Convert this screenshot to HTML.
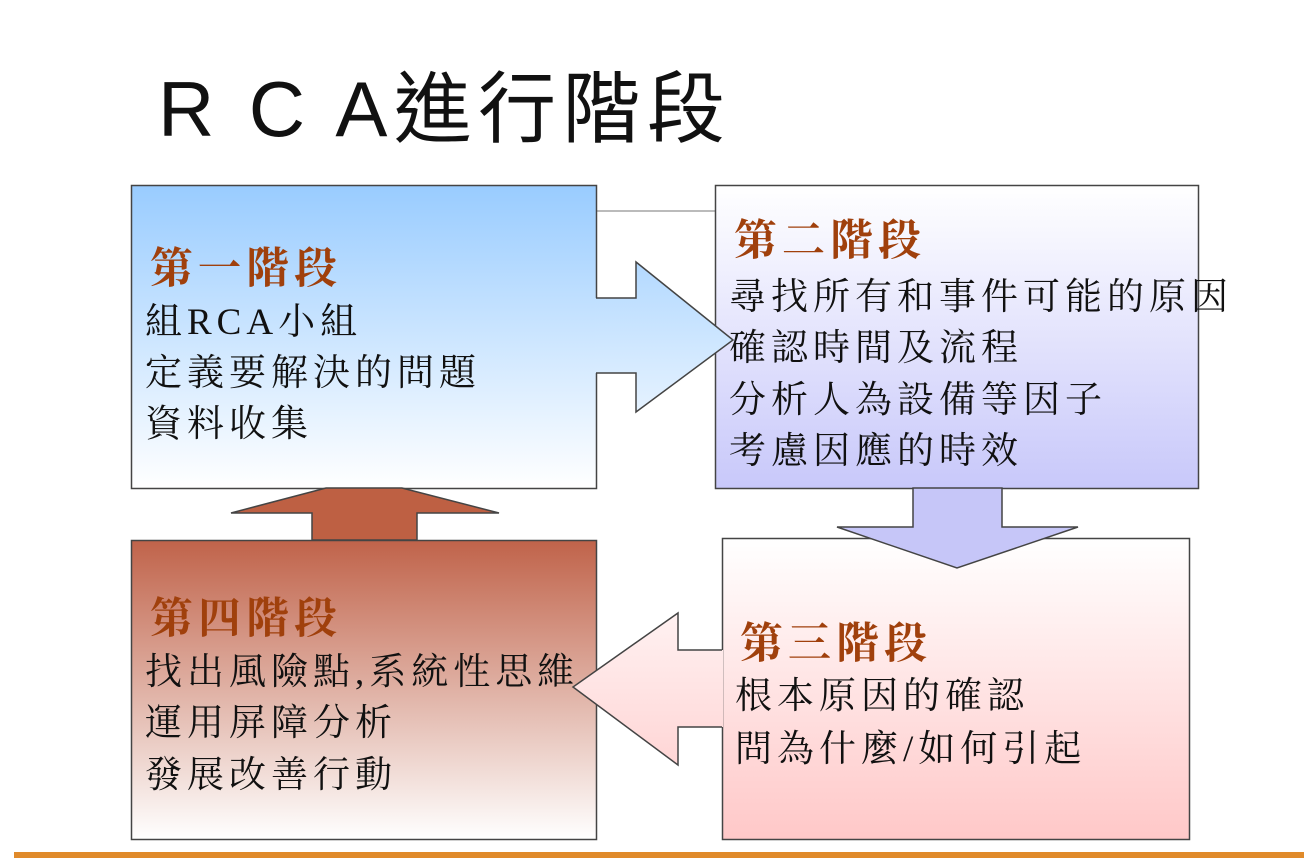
<!DOCTYPE html>
<html><head><meta charset="utf-8"><style>
html,body{margin:0;padding:0;background:#fff;}
svg{display:block}
.t{font-family:"Liberation Serif","Noto Serif CJK SC",serif;font-size:37px;fill:#111;letter-spacing:5px}
.h{font-family:"Liberation Serif","Noto Serif CJK SC",serif;font-size:43px;font-weight:bold;fill:#a0400c;letter-spacing:5px}
</style></head><body>
<svg width="1304" height="858" viewBox="0 0 1304 858" xmlns="http://www.w3.org/2000/svg">
<defs>
<linearGradient id="g1" x1="0" y1="0" x2="0" y2="1"><stop offset="0" stop-color="#99ccff"/><stop offset="1" stop-color="#ffffff"/></linearGradient>
<linearGradient id="g2" x1="0" y1="0" x2="0" y2="1"><stop offset="0" stop-color="#ffffff"/><stop offset="1" stop-color="#c8c8fa"/></linearGradient>
<linearGradient id="g3" x1="0" y1="0" x2="0" y2="1"><stop offset="0" stop-color="#ffffff"/><stop offset="1" stop-color="#ffc8c8"/></linearGradient>
<linearGradient id="g4" x1="0" y1="0" x2="0" y2="1"><stop offset="0" stop-color="#c0634a"/><stop offset="1" stop-color="#ffffff"/></linearGradient>
<linearGradient id="ga1" gradientUnits="userSpaceOnUse" x1="0" y1="185" x2="0" y2="488"><stop offset="0" stop-color="#99ccff"/><stop offset="1" stop-color="#ffffff"/></linearGradient>
<linearGradient id="ga3" gradientUnits="userSpaceOnUse" x1="0" y1="538" x2="0" y2="839"><stop offset="0" stop-color="#ffffff"/><stop offset="1" stop-color="#ffc8c8"/></linearGradient>
</defs>
<text x="158" y="136" font-family="Liberation Sans,'Noto Sans CJK TC',sans-serif" font-size="78" fill="#111" textLength="567" lengthAdjust="spacing">R C A進行階段</text>
<line x1="596" y1="211" x2="715" y2="211" stroke="#bbb" stroke-width="2"/>
<rect x="131.5" y="185.5" width="465" height="303" fill="url(#g1)" stroke="#444" stroke-width="1.5"/>
<rect x="715.5" y="185.5" width="483" height="303" fill="url(#g2)" stroke="#444" stroke-width="1.5"/>
<rect x="722.5" y="538.5" width="467" height="301" fill="url(#g3)" stroke="#444" stroke-width="1.5"/>
<rect x="131.5" y="540.5" width="465" height="299" fill="url(#g4)" stroke="#444" stroke-width="1.5"/>
<polygon points="595,298 636,298 636,262 733,340 636,412 636,373 595,373" fill="url(#ga1)"/>
<polyline points="596,298 636,298 636,262 733,340 636,412 636,373 596,373" fill="none" stroke="#444" stroke-width="1.5"/>
<polygon points="312,540 312,513 231,513 326,488 402,488 499,513 417,513 417,540" fill="#be6043" stroke="#444" stroke-width="1.5"/>
<polygon points="913,488 913,527 837,527 957,568 1078,527 1002,527 1002,488" fill="#c6c6f8" stroke="#444" stroke-width="1.5"/>
<polygon points="723,650 678,650 678,613 573,687 678,765 678,727 723,727" fill="url(#ga3)"/>
<polyline points="722,650 678,650 678,613 573,687 678,765 678,727 722,727" fill="none" stroke="#444" stroke-width="1.5"/>
<text class="h" x="150" y="283">第一階段</text>
<text class="t" x="145" y="334">組RCA小組</text>
<text class="t" x="145" y="385">定義要解決的問題</text>
<text class="t" x="145" y="436">資料收集</text>
<text class="h" x="734" y="255">第二階段</text>
<text class="t" x="729" y="309">尋找所有和事件可能的原因</text>
<text class="t" x="729" y="360">確認時間及流程</text>
<text class="t" x="729" y="412">分析人為設備等因子</text>
<text class="t" x="729" y="463">考慮因應的時效</text>
<text class="h" x="740" y="658">第三階段</text>
<text class="t" x="735" y="708">根本原因的確認</text>
<text class="t" x="735" y="761">問為什麼/如何引起</text>
<text class="h" x="150" y="633">第四階段</text>
<text class="t" x="145" y="684">找出風險點,系統性思維</text>
<text class="t" x="145" y="735">運用屏障分析</text>
<text class="t" x="145" y="787">發展改善行動</text>
<rect x="14" y="852" width="1290" height="6" fill="#e08a2a"/>
</svg>
</body></html>
